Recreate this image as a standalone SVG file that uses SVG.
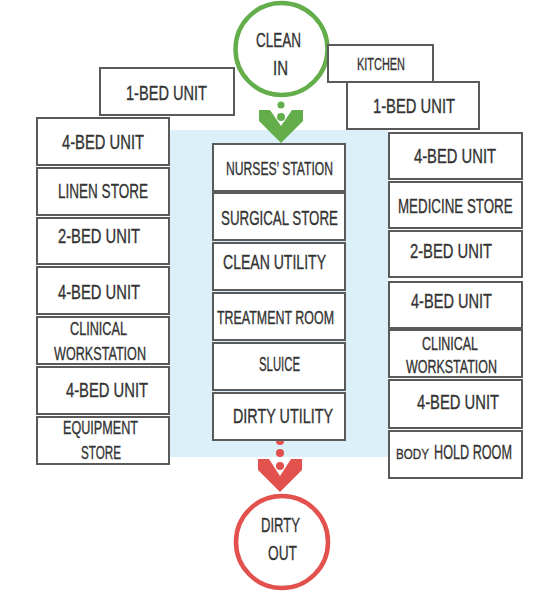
<svg xmlns="http://www.w3.org/2000/svg" width="553" height="599" viewBox="0 0 553 599">
<style>
.box{fill:#fff;stroke:#5a5a5a;stroke-width:2}
text{font-family:"Liberation Sans",Arial,sans-serif;fill:#333;font-size:21px;stroke:#333;stroke-width:0.35}
.s{font-size:18px}
.xs{font-size:17px}
.b{font-size:15px}
</style>
<rect x="0" y="0" width="553" height="599" fill="#fff"/>
<rect id="corridor" x="170" y="130" width="218" height="327" fill="#dcf0fa"/>
<g id="connectors">
  <circle cx="281" cy="105" r="3.5" fill="#63ad4b"/>
  <circle cx="281" cy="117" r="4" fill="#63ad4b"/>
  <polygon points="259,110 270,110 281,126 292,110 303,110 303,121 281,143 259,121" fill="#63ad4b"/>
  <circle cx="280" cy="441" r="4" fill="#e3514e"/>
  <circle cx="280" cy="453" r="4" fill="#e3514e"/>
  <circle cx="280" cy="466" r="4" fill="#e3514e"/>
  <polygon points="258,459 269,459 280,476 291,459 302,459 302,470 280,492 258,470" fill="#e3514e"/>
</g>
<g id="clean-in">
  <circle cx="281.5" cy="49" r="46" fill="#fff" stroke="#63ad4b" stroke-width="4.5"/>
  <text x="256" y="47" textLength="45" lengthAdjust="spacingAndGlyphs">CLEAN</text>
  <text x="273" y="75" textLength="15" lengthAdjust="spacingAndGlyphs">IN</text>
</g>
<g id="dirty-out">
  <circle cx="282" cy="542" r="46" fill="#fff" stroke="#e3514e" stroke-width="4.5"/>
  <text x="261" y="532" textLength="39" lengthAdjust="spacingAndGlyphs">DIRTY</text>
  <text x="268" y="560" textLength="29" lengthAdjust="spacingAndGlyphs">OUT</text>
</g>
<g id="l-1bed"><rect class="box" x="100" y="68" width="134" height="47"/><text x="126" y="100" textLength="81" lengthAdjust="spacingAndGlyphs">1-BED UNIT</text></g>
<g id="kitchen"><rect class="box" x="328" y="45" width="105" height="37"/><text class="xs" x="357" y="70" textLength="48" lengthAdjust="spacingAndGlyphs">KITCHEN</text></g>
<g id="r-1bed"><rect class="box" x="347" y="82" width="132" height="47"/><text x="373" y="113" textLength="82" lengthAdjust="spacingAndGlyphs">1-BED UNIT</text></g>

<g id="l1"><rect class="box" x="37" y="118" width="132" height="47"/><text x="62" y="149" textLength="82" lengthAdjust="spacingAndGlyphs">4-BED UNIT</text></g>
<g id="l2"><rect class="box" x="37" y="168" width="132" height="47"/><text x="58" y="198" textLength="90" lengthAdjust="spacingAndGlyphs">LINEN STORE</text></g>
<g id="l3"><rect class="box" x="37" y="218" width="132" height="46"/><text x="58" y="243" textLength="82" lengthAdjust="spacingAndGlyphs">2-BED UNIT</text></g>
<g id="l4"><rect class="box" x="37" y="267" width="132" height="47"/><text x="58" y="299" textLength="82" lengthAdjust="spacingAndGlyphs">4-BED UNIT</text></g>
<g id="l5"><rect class="box" x="37" y="317" width="132" height="47"/><text class="s" x="70" y="335" textLength="57" lengthAdjust="spacingAndGlyphs">CLINICAL</text><text class="s" x="54" y="360" textLength="92" lengthAdjust="spacingAndGlyphs">WORKSTATION</text></g>
<g id="l6"><rect class="box" x="37" y="367" width="132" height="47"/><text x="66" y="397" textLength="82" lengthAdjust="spacingAndGlyphs">4-BED UNIT</text></g>
<g id="l7"><rect class="box" x="37" y="417" width="132" height="47"/><text class="s" x="63" y="434" textLength="75" lengthAdjust="spacingAndGlyphs">EQUIPMENT</text><text class="s" x="81" y="459" textLength="40" lengthAdjust="spacingAndGlyphs">STORE</text></g>

<g id="m1"><rect class="box" x="213" y="144" width="132" height="47"/><text class="s" x="226" y="175" textLength="107" lengthAdjust="spacingAndGlyphs">NURSES’ STATION</text></g>
<g id="m2"><rect class="box" x="213" y="193" width="132" height="47"/><text x="221" y="225" textLength="117" lengthAdjust="spacingAndGlyphs">SURGICAL STORE</text></g>
<g id="m3"><rect class="box" x="213" y="243" width="132" height="47"/><text x="223" y="269" textLength="103" lengthAdjust="spacingAndGlyphs">CLEAN UTILITY</text></g>
<g id="m4"><rect class="box" x="213" y="293" width="132" height="47"/><text class="s" x="217" y="324" textLength="117" lengthAdjust="spacingAndGlyphs">TREATMENT ROOM</text></g>
<g id="m5"><rect class="box" x="213" y="343" width="132" height="47"/><text x="259" y="371" textLength="41" lengthAdjust="spacingAndGlyphs">SLUICE</text></g>
<g id="m6"><rect class="box" x="213" y="393" width="132" height="47"/><text x="233" y="423" textLength="100" lengthAdjust="spacingAndGlyphs">DIRTY UTILITY</text></g>

<g id="r1"><rect class="box" x="389" y="133" width="133" height="46"/><text x="414" y="163" textLength="82" lengthAdjust="spacingAndGlyphs">4-BED UNIT</text></g>
<g id="r2"><rect class="box" x="389" y="182" width="133" height="46"/><text transform="translate(398,213) scale(0.636,1)">MEDICINE STORE</text></g>
<g id="r3"><rect class="box" x="389" y="231" width="133" height="46"/><text x="410" y="258" textLength="82" lengthAdjust="spacingAndGlyphs">2-BED UNIT</text></g>
<g id="r4"><rect class="box" x="389" y="282" width="133" height="46"/><text x="411" y="308" textLength="81" lengthAdjust="spacingAndGlyphs">4-BED UNIT</text></g>
<g id="r5"><rect class="box" x="389" y="330" width="133" height="47"/><text class="s" x="422" y="350" textLength="56" lengthAdjust="spacingAndGlyphs">CLINICAL</text><text class="s" x="406" y="373" textLength="91" lengthAdjust="spacingAndGlyphs">WORKSTATION</text></g>
<g id="r6"><rect class="box" x="389" y="380" width="133" height="48"/><text x="417" y="409" textLength="82" lengthAdjust="spacingAndGlyphs">4-BED UNIT</text></g>
<g id="r7"><rect class="box" x="389" y="431" width="133" height="47"/><text class="b" transform="translate(396,459) scale(0.776,1)">BODY</text><text transform="translate(434,459) scale(0.602,1)">HOLD ROOM</text></g>
</svg>
